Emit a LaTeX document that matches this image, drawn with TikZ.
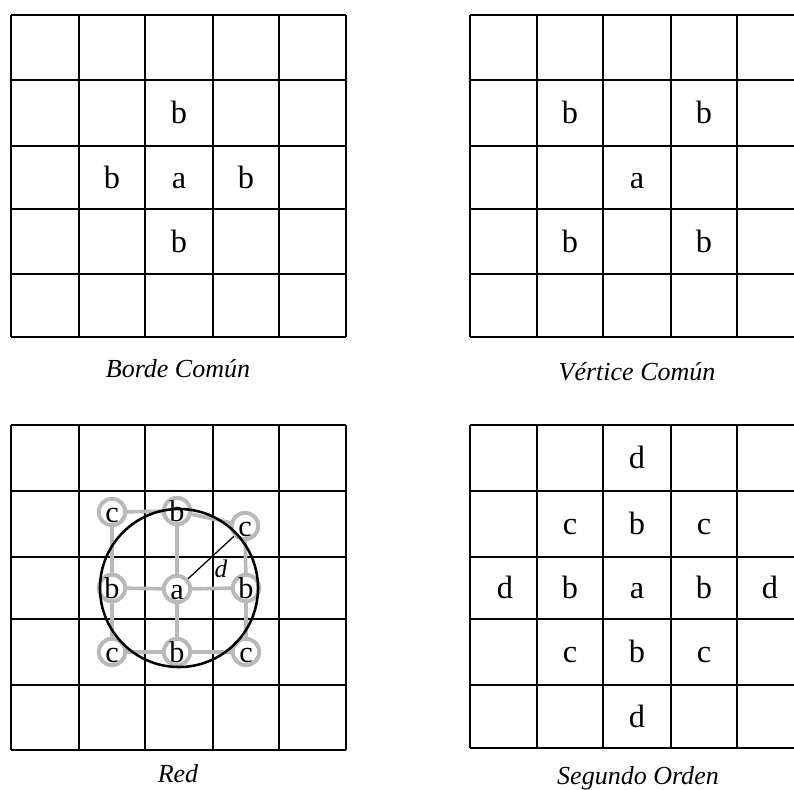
\documentclass[tikz,border=0pt]{standalone}
\usepackage{fontspec}
\setmainfont{Liberation Serif}
\usetikzlibrary{positioning}

\begin{document}
\begin{tikzpicture}[
        x=0.025cm, y=-0.025cm,
        gridline/.style={line width=1.1pt},
        cell/.style={inner sep=0pt, text height=15.6pt, text depth=0pt, font=\fontsize{23}{25}\selectfont},
        caption/.style={inner sep=0pt, font=\fontsize{18.5}{21}\selectfont\itshape},
        ring/.style={circle, draw=gray!55, line width=2.8pt, minimum size=0.66cm, inner sep=0pt, text height=14.6pt, text depth=0pt, font=\fontsize{21.5}{24}\selectfont},
        link/.style={gray!55, line width=2.6pt}
      ]
      \useasboundingbox (0,0) rectangle (794,789);

      % Borde Comun
      \foreach \x in {11,79,145,213,279,346} \draw[gridline] (\x,15) -- (\x,337);
      \foreach \y in {15,80,146,209,274,337} \draw[gridline] (11,\y) -- (346,\y);
      \node[cell] (bcn) at (179,113) {b};
      \node[cell] (bcw) at (112,178) {b};
      \node[cell] (bca) at (179,178) {a};
      \node[cell] (bce) at (246,178) {b};
      \node[cell] (bcs) at (179,242) {b};
      \node[caption] (bccap) at (178,369) {Borde Común};

      % Vertice Comun
      \foreach \x in {470,537,603,671,737} \draw[gridline] (\x,15) -- (\x,337);
      \foreach \y in {15,80,146,209,274,337} \draw[gridline] (470,\y) -- (794,\y);
      \node[cell] (vcnw) at (570,113) {b};
      \node[cell] (vcne) at (704,113) {b};
      \node[cell] (vca) at (637,178) {a};
      \node[cell] (vcsw) at (570,242) {b};
      \node[cell] (vcse) at (704,242) {b};
      \node[caption] (vccap) at (637,372) {Vértice Común};

      % Red
      \foreach \x in {11,79,145,213,279,346} \draw[gridline] (\x,425) -- (\x,750);
      \foreach \y in {425,491,557,619,685,750} \draw[gridline] (11,\y) -- (346,\y);
      \node[ring] (rnw) at (112,512) {c};
      \node[ring] (rn) at (177,511) {b};
      \node[ring] (rne) at (245,526) {c};
      \node[ring] (rw) at (112,588) {b};
      \node[ring] (ra) at (177,589) {a};
      \node[ring] (re) at (246,588) {b};
      \node[ring] (rsw) at (112,652) {c};
      \node[ring] (rs) at (177,652) {b};
      \node[ring] (rse) at (246,652) {c};
      \draw[link] (rnw) -- (rn);
      \draw[link] (rn) -- (rne);
      \draw[link] (rnw) -- (rw);
      \draw[link] (rw) -- (rsw);
      \draw[link] (rne) -- (re);
      \draw[link] (re) -- (rse);
      \draw[link] (rsw) -- (rs);
      \draw[link] (rs) -- (rse);
      \draw[link] (rn) -- (ra);
      \draw[link] (ra) -- (rs);
      \draw[link] (rw) -- (ra);
      \draw[link] (ra) -- (re);
      \draw[line width=1.8pt] (179,588) circle[radius=1.975cm];
      \draw[line width=0.9pt] (ra) -- (rne);
      \node[inner sep=0pt, text height=12.2pt, text depth=0pt, font=\fontsize{18}{20}\selectfont\itshape] (rd) at (221,569) {d};
      \node[caption] (rcap) at (178,774) {Red};

      % Segundo Orden
      \foreach \x in {470,537,603,671,737} \draw[gridline] (\x,425) -- (\x,748);
      \foreach \y in {425,491,557,619,685,748} \draw[gridline] (470,\y) -- (794,\y);
      \node[cell] (son) at (637,458) {d};
      \node[cell] (sonw) at (570,524) {c};
      \node[cell] (sonb) at (637,524) {b};
      \node[cell] (sone) at (704,524) {c};
      \node[cell] (sow) at (505,588) {d};
      \node[cell] (sowb) at (570,588) {b};
      \node[cell] (soa) at (637,588) {a};
      \node[cell] (soeb) at (704,588) {b};
      \node[cell] (soe) at (770,588) {d};
      \node[cell] (sosw) at (570,652) {c};
      \node[cell] (sosb) at (637,652) {b};
      \node[cell] (sose) at (704,652) {c};
      \node[cell] (sos) at (637,717) {d};
      \node[caption] (socap) at (638,778) {Segundo Orden};

    \end{tikzpicture}
\end{document}
